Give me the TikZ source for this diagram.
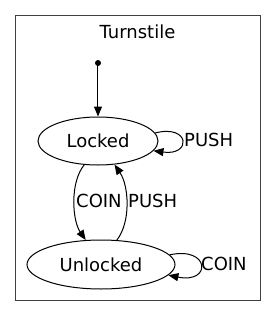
\documentclass[tikz,border=0pt]{standalone}
\usepackage{fontspec}
\setmainfont{DejaVu Sans}
\usetikzlibrary{arrows.meta,shapes.geometric}
\begin{document}
\begin{tikzpicture}[x=1pt,y=-1pt,
  every node/.style={font=\fontsize{18}{21}\selectfont},
  state/.style={draw,ellipse,line width=1pt,inner sep=0pt},
  edge/.style={line width=1pt,-{Triangle[length=10pt,width=8pt]}},
  lbl/.style={inner sep=0pt,anchor=west}]
\useasboundingbox (0,0) rectangle (276,317);
\draw[line width=1.1pt,black!75] (15.5,15.5) rectangle (260.5,300.5);
\node[inner sep=0pt] (title) at (137.5,32) {Turnstile};
\fill (98,63) circle (3pt);
\coordinate (start) at (98,63);
\node[state,minimum width=120pt,minimum height=48pt] (L) at (98,141) {Locked};
\node[state,minimum width=148pt,minimum height=49pt] (U) at (101,264.5) {Unlocked};
\draw[edge] (start) -- (L.north);
\draw[edge] (L.8) .. controls (190,124) and (192,156) .. (L.-10);
\node[lbl] (p1) at (184,140) {PUSH};
\draw[edge] (L.-120) .. controls (70,182) and (72,220) .. (U.122);
\node[lbl] (c1) at (76,201) {COIN};
\draw[edge] (U.57) .. controls (131,222) and (129,186) .. (L.-55);
\node[lbl] (p2) at (128,201) {PUSH};
\draw[edge] (U.8) .. controls (210,246) and (212,284) .. (U.-9);
\node[lbl] (c2) at (201,264) {COIN};
\end{tikzpicture}
\end{document}
